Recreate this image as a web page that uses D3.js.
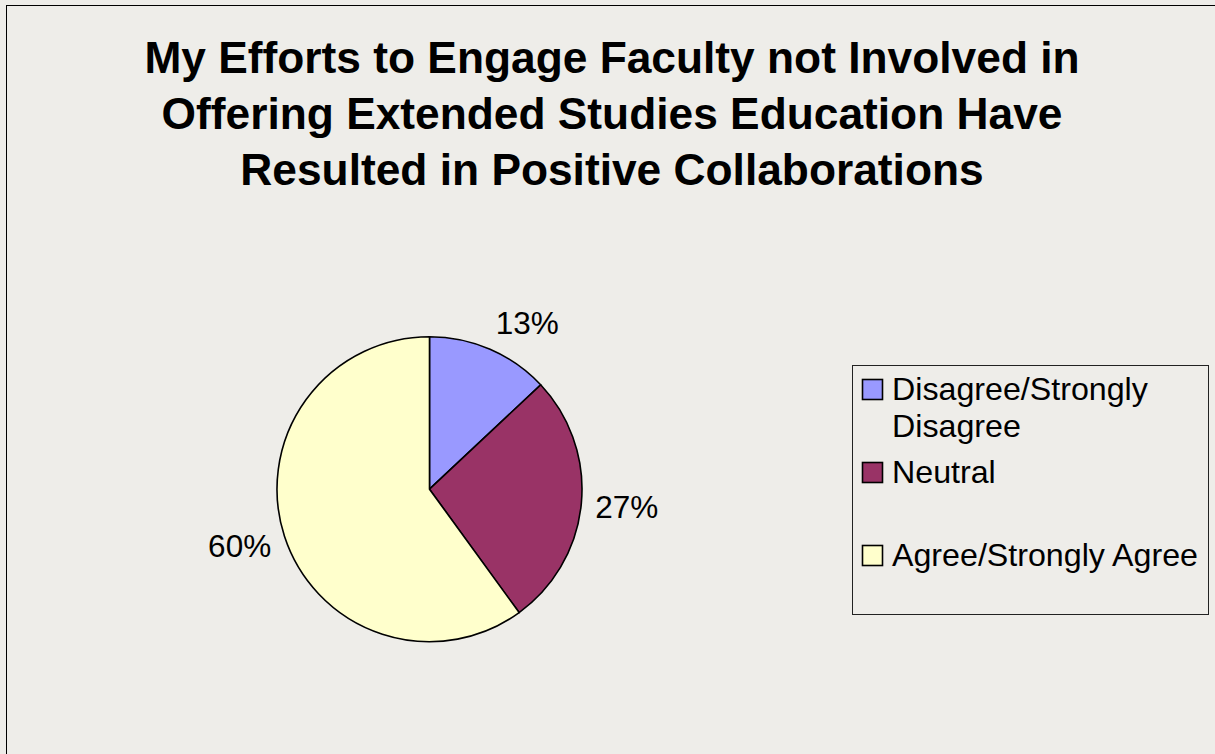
<!DOCTYPE html>
<html>
<head>
<meta charset="utf-8">
<script src="https://cdnjs.cloudflare.com/ajax/libs/d3/7.8.5/d3.min.js"></script>
<style>
  html, body { margin: 0; padding: 0; background: #eeede9; }
  svg { display: block; }
  text { font-family: "Liberation Sans", Arial, sans-serif; fill: #000; }
</style>
</head>
<body>
<svg id="chart" width="1215" height="754"></svg>
<script>
// Survey responses (share of respondents, %)
const categories = ["Disagree/Strongly Disagree", "Neutral", "Agree/Strongly Agree"];
const legendLines = [["Disagree/Strongly", "Disagree"], ["Neutral"], ["Agree/Strongly Agree"]];
const values = [13, 27, 60];
const colors = ["#9999ff", "#993366", "#ffffcc"];
const titleLines = [
  "My Efforts to Engage Faculty not Involved in",
  "Offering Extended Studies Education Have",
  "Resulted in Positive Collaborations"
];

const svg = d3.select("#chart");
const W = 1215, H = 754;

// chart area background and frame
svg.append("rect")
  .attr("x", 6.5).attr("y", 5.5)
  .attr("width", W).attr("height", H)
  .attr("fill", "#eeede9")
  .attr("stroke", "#000").attr("stroke-width", 1);

// title
svg.append("g").selectAll("text")
  .data(titleLines)
  .join("text")
  .attr("x", 612)
  .attr("y", (d, i) => 73 + i * 56)
  .attr("text-anchor", "middle")
  .style("font-size", "44.3px")
  .style("font-weight", "bold")
  .text(d => d);

// pie, first slice starting at 12 o'clock, clockwise
const cx = 429.5, cy = 489.2, R = 152.5;
const pie = d3.pie().sort(null).value(d => d)
  .startAngle(0).endAngle(2 * Math.PI);
const arcs = pie(values);
const arc = d3.arc().innerRadius(0).outerRadius(R);

const g = svg.append("g").attr("transform", `translate(${cx},${cy})`);
g.selectAll("path")
  .data(arcs)
  .join("path")
  .attr("d", arc)
  .attr("fill", (d, i) => colors[i])
  .attr("stroke", "#000")
  .attr("stroke-width", 1.6)
  .attr("stroke-linejoin", "round");

// percentage labels: anchored just outside the rim on each slice's bisector,
// aligned away from the pie
const labelR = R + 14;
const labelSize = 31.5;
const boxH = 30;
const fmt = d3.format(".0f");
const total = d3.sum(values);
g.selectAll("text.pct")
  .data(arcs)
  .join("text")
  .attr("class", "pct")
  .each(function (d) {
    const mid = (d.startAngle + d.endAngle) / 2;
    const s = Math.sin(mid), c = Math.cos(mid);
    const px = labelR * s, py = -labelR * c;
    const anchor = s > 0.1 ? "start" : (s < -0.1 ? "end" : "middle");
    const centerY = py - c * boxH / 2;
    d3.select(this)
      .attr("x", px)
      .attr("y", centerY + labelSize * 0.36)
      .attr("text-anchor", anchor);
  })
  .style("font-size", labelSize + "px")
  .text(d => fmt(d.value / total * 100) + "%");

// legend
const lx = 852.5, ly = 365.5, lw = 356, lh = 249;
const legend = svg.append("g");
legend.append("rect")
  .attr("x", lx).attr("y", ly)
  .attr("width", lw).attr("height", lh)
  .attr("fill", "none")
  .attr("stroke", "#222").attr("stroke-width", 1);

const rowTop = [379, 462, 545];
const items = legend.selectAll("g.item")
  .data(categories)
  .join("g")
  .attr("class", "item")
  .attr("transform", (d, i) => `translate(862,${rowTop[i]})`);

items.append("rect")
  .attr("x", 0.5).attr("y", 0.5)
  .attr("width", 20).attr("height", 20)
  .attr("fill", (d, i) => colors[i])
  .attr("stroke", "#000").attr("stroke-width", 1.6);

items.each(function (d, i) {
  d3.select(this).selectAll("text")
    .data(legendLines[i])
    .join("text")
    .attr("x", 30)
    .attr("y", (t, j) => 21 + j * 37)
    .style("font-size", "32.2px")
    .text(t => t);
});
</script>
</body>
</html>
